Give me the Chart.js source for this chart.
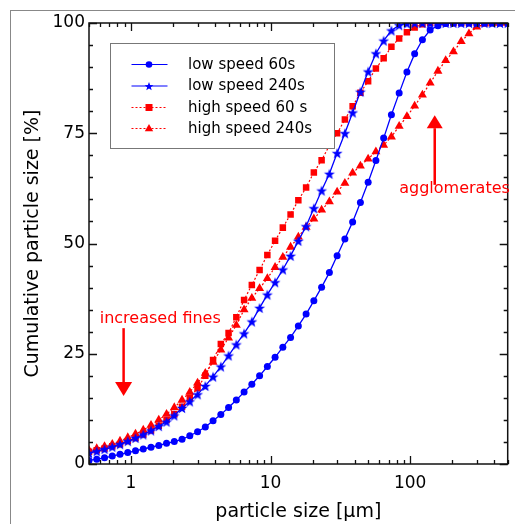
<!DOCTYPE html>
<html>
<head>
<meta charset="utf-8">
<script src="https://cdn.jsdelivr.net/npm/chart.js@4.4.1/dist/chart.umd.min.js"></script>
<style>
  html, body { margin: 0; padding: 0; background: #fff; overflow: hidden; }
  #frame { position: absolute; left: 10px; top: 10px; width: 600px; height: 600px; border: 1.5px solid #888; }
  #wrap { position: absolute; left: 0; top: 0; width: 515px; height: 524px; }
</style>
</head>
<body>
<div id="frame"></div>
<div id="wrap"><canvas id="chart" width="515" height="524"></canvas></div>
<script>
// particle size classes [µm]
const sizes = [0.5, 0.568, 0.646, 0.734, 0.834, 0.948, 1.077, 1.224, 1.391, 1.581,
    1.797, 2.042, 2.321, 2.638, 2.998, 3.407, 3.872, 4.401, 5.0, 5.683,
    6.459, 7.34, 8.342, 9.481, 10.77, 12.24, 13.91, 15.81, 17.97, 20.42,
    23.21, 26.38, 29.98, 34.07, 38.72, 44.01, 50.0, 56.83, 64.59, 73.4,
    83.42, 94.81, 107.7, 122.4, 139.1, 158.1, 179.7, 204.2, 232.1, 263.8,
    299.8, 340.7, 387.2, 440.1, 500];

const lowSpeed60 = [0.8, 1.1, 1.4, 1.8, 2.2, 2.6, 3.0, 3.4, 3.8, 4.2,
    4.7, 5.1, 5.6, 6.4, 7.3, 8.4, 9.8, 11.2, 12.8, 14.5,
    16.3, 18.1, 20.0, 22.1, 24.2, 26.5, 28.7, 31.3, 34.0, 37.0,
    40.1, 43.4, 47.2, 51.0, 54.9, 59.3, 63.9, 68.8, 73.9, 79.2,
    84.1, 88.9, 93.0, 96.2, 98.4, 99.4, 99.9, 100, 100, 100,
    100, 100, 100, 100, 100];

const lowSpeed240 = [2.5, 2.9, 3.4, 3.9, 4.5, 5.2, 5.9, 6.7, 7.6, 8.6,
    9.6, 11.0, 12.7, 14.2, 15.8, 17.7, 19.8, 22.1, 24.6, 27.1,
    29.6, 32.3, 35.4, 38.4, 41.2, 44.1, 47.2, 50.6, 53.9, 58.0,
    62.0, 65.8, 70.5, 75.0, 79.7, 84.4, 89.0, 93.1, 96.0, 98.3,
    99.5, 99.9, 100, 100, 100, 100, 100, 100, 100, 100,
    100, 100, 100, 100, 100];

const highSpeed60 = [2.8, 3.1, 3.5, 4.0, 4.5, 5.2, 5.9, 6.7, 7.6, 8.7,
    10.0, 11.3, 13.0, 15.0, 17.2, 20.0, 23.6, 27.2, 29.7, 33.3,
    37.2, 40.6, 44.0, 47.4, 50.6, 53.6, 56.6, 59.8, 62.7, 66.1,
    68.9, 72.2, 75.0, 78.1, 81.1, 84.2, 86.8, 89.7, 92.0, 94.6,
    96.5, 97.9, 99.0, 99.7, 100, 100, 100, 100, 100, 100,
    100, 100, 100, 100, 100];

const highSpeed240 = [3.1, 3.5, 4.0, 4.5, 5.2, 6.0, 6.8, 7.7, 8.8, 10.0,
    11.3, 12.8, 14.5, 16.3, 18.4, 20.6, 23.1, 25.9, 28.6, 31.5,
    35.0, 37.6, 39.8, 42.1, 44.6, 46.9, 49.2, 51.5, 53.7, 55.6,
    57.6, 59.5, 61.7, 63.7, 66.0, 67.6, 69.2, 70.8, 72.3, 74.2,
    76.6, 78.8, 81.2, 83.7, 86.4, 89.1, 91.5, 93.5, 95.8, 97.6,
    99.1, 99.8, 100, 100, 100];

const seriesNames = ['low speed 60s', 'low speed 240s', 'high speed 60 s', 'high speed 240s'];
const xTickLabels = [1, 10, 100];
const yTickLabels = [0, 25, 50, 75, 100];

const FONT = '"DejaVu Sans", Verdana, sans-serif';
const BLUE = '#0000ff';
const RED = '#ff0000';

function makeStar(r, color) {
    const c = document.createElement('canvas');
    const s = Math.ceil(r * 2) + 2;
    c.width = s;
    c.height = s;
    const g = c.getContext('2d');
    g.fillStyle = color;
    g.beginPath();
    for (let i = 0; i < 10; i++) {
        const rad = i % 2 === 0 ? r : r * 0.42;
        const a = -Math.PI / 2 + i * Math.PI / 5;
        const px = s / 2 + rad * Math.cos(a);
        const py = s / 2 + 0.6 + rad * Math.sin(a);
        if (i === 0) g.moveTo(px, py); else g.lineTo(px, py);
    }
    g.closePath();
    g.fill();
    return c;
}

const starImg = makeStar(5.7, BLUE);
const starSmall = makeStar(4.6, BLUE);

function pts(vals) {
    return sizes.map((x, i) => ({ x: x, y: vals[i] }));
}

// inside tick marks + frame of the plot
const axesFrame = {
    id: 'axesFrame',
    afterDatasetsDraw(chart) {
        const ctx = chart.ctx;
        const a = chart.chartArea;
        const xs = chart.scales.x, ys = chart.scales.y;
        ctx.save();
        ctx.strokeStyle = '#111';
        ctx.lineWidth = 1.3;
        ctx.beginPath();
        // x ticks (log, minor at 2..9)
        for (let dec = 0.1; dec <= 100; dec *= 10) {
            for (let m = 1; m <= 9; m++) {
                const v = dec * m;
                if (v < 0.5 - 1e-9 || v > 500 + 1e-9) continue;
                const px = Math.round(xs.getPixelForValue(v)) + 0.5;
                const len = m === 1 ? 8 : 4;
                ctx.moveTo(px, a.bottom); ctx.lineTo(px, a.bottom - len);
                ctx.moveTo(px, a.top); ctx.lineTo(px, a.top + len);
            }
        }
        // y ticks every 5
        for (let v = 0; v <= 100; v += 5) {
            const py = Math.round(ys.getPixelForValue(v)) + 0.5;
            const len = v % 25 === 0 ? 8 : 4;
            ctx.moveTo(a.left, py); ctx.lineTo(a.left + len, py);
            ctx.moveTo(a.right, py); ctx.lineTo(a.right - len, py);
        }
        ctx.stroke();
        ctx.lineWidth = 1.5;
        ctx.strokeRect(a.left, a.top, a.right - a.left, a.bottom - a.top);
        ctx.restore();
    }
};

// legend box inside plot, upper left
const boxLegend = {
    id: 'boxLegend',
    afterDraw(chart) {
        const ctx = chart.ctx;
        const a = chart.chartArea;
        const left = a.left + 21.5, top = a.top + 20.5;
        ctx.save();
        ctx.fillStyle = '#fff';
        ctx.fillRect(left, top, 224, 105);
        ctx.strokeStyle = '#777';
        ctx.lineWidth = 1;
        ctx.strokeRect(left, top, 224, 105);
        ctx.font = '15px ' + FONT;
        ctx.textBaseline = 'middle';
        const rows = [21, 42.5, 64, 85];
        chart.data.datasets.forEach((ds, i) => {
            const y = top + rows[i];
            const x0 = left + 21, x1 = left + 57, xm = left + 38.5;
            ctx.strokeStyle = ds.borderColor;
            ctx.lineWidth = 1.2;
            ctx.setLineDash(ds.borderDash || []);
            ctx.beginPath();
            ctx.moveTo(x0, y); ctx.lineTo(x1, y);
            ctx.stroke();
            ctx.setLineDash([]);
            ctx.fillStyle = ds.borderColor;
            if (i === 0) {
                ctx.beginPath(); ctx.arc(xm, y, 3.3, 0, Math.PI * 2); ctx.fill();
            } else if (i === 1) {
                ctx.drawImage(starSmall, xm - starSmall.width / 2, y - starSmall.height / 2);
            } else if (i === 2) {
                ctx.fillRect(xm - 3.5, y - 3.5, 7, 7);
            } else {
                ctx.beginPath();
                ctx.moveTo(xm, y - 4.5); ctx.lineTo(xm + 4.2, y + 2.8); ctx.lineTo(xm - 4.2, y + 2.8);
                ctx.closePath(); ctx.fill();
            }
            ctx.fillStyle = '#000';
            ctx.fillText(ds.label, left + 77.5, y + 0.5);
        });
        ctx.restore();
    }
};

// red notes with arrows
function arrow(ctx, x, yFrom, yTo, headLen, headHalf) {
    const dir = yTo > yFrom ? 1 : -1;
    ctx.beginPath();
    ctx.moveTo(x, yFrom); ctx.lineTo(x, yTo - dir * headLen);
    ctx.stroke();
    ctx.beginPath();
    ctx.moveTo(x, yTo);
    ctx.lineTo(x - headHalf, yTo - dir * headLen);
    ctx.lineTo(x + headHalf, yTo - dir * headLen);
    ctx.closePath();
    ctx.fill();
}

const notes = {
    id: 'notes',
    afterDraw(chart) {
        const ctx = chart.ctx;
        const xs = chart.scales.x, ys = chart.scales.y;
        ctx.save();
        ctx.fillStyle = RED;
        ctx.strokeStyle = RED;
        ctx.lineWidth = 2.5;
        ctx.font = '16px ' + FONT;
        ctx.textAlign = 'center';
        ctx.textBaseline = 'alphabetic';
        ctx.fillText('increased fines', xs.getPixelForValue(1.62), ys.getPixelForValue(32));
        arrow(ctx, xs.getPixelForValue(0.885), ys.getPixelForValue(30.8), ys.getPixelForValue(15.4), 14, 8.5);
        ctx.fillText('agglomerates', xs.getPixelForValue(208), ys.getPixelForValue(61.5));
        arrow(ctx, xs.getPixelForValue(150), ys.getPixelForValue(63.3), ys.getPixelForValue(79.1), 13, 8);
        ctx.restore();
    }
};

const ctx = document.getElementById('chart').getContext('2d');
new Chart(ctx, {
    type: 'scatter',
    data: {
        datasets: [
            { label: seriesNames[0], data: pts(lowSpeed60), showLine: true, borderColor: BLUE, backgroundColor: BLUE,
              borderWidth: 1.3, pointStyle: 'circle', pointRadius: 3.5, pointBorderWidth: 0 },
            { label: seriesNames[1], data: pts(lowSpeed240), showLine: true, borderColor: BLUE, backgroundColor: BLUE,
              borderWidth: 1.3, pointStyle: starImg, pointRadius: 6 },
            { label: seriesNames[2], data: pts(highSpeed60), showLine: true, borderColor: RED, backgroundColor: RED,
              borderWidth: 1.2, borderDash: [2, 2], pointStyle: 'rect', pointRadius: 4.6, pointBorderWidth: 0 },
            { label: seriesNames[3], data: pts(highSpeed240), showLine: true, borderColor: RED, backgroundColor: RED,
              borderWidth: 1.2, borderDash: [2, 2], pointStyle: 'triangle', pointRadius: 5.2, pointBorderWidth: 0 }
        ]
    },
    options: {
        responsive: false,
        animation: false,
        layout: { padding: { top: 23, right: 2, left: 0, bottom: 0 } },
        plugins: {
            legend: { display: false },
            tooltip: { enabled: false }
        },
        elements: { line: { tension: 0 } },
        scales: {
            x: {
                type: 'logarithmic',
                min: 0.5,
                max: 500,
                grid: { display: false, drawTicks: false },
                border: { display: false },
                afterBuildTicks: function (s) { s.ticks = xTickLabels.map(v => ({ value: v })); },
                afterFit: function (s) { s.height = 60; },
                ticks: {
                    color: '#000', font: { family: FONT, size: 17 }, padding: 9,
                    maxRotation: 0, autoSkip: false,
                    callback: function (v) { return String(v); }
                },
                title: {
                    display: true, text: 'particle size [µm]', color: '#000',
                    font: { family: FONT, size: 19 }, padding: { top: 0, bottom: 1 }
                }
            },
            y: {
                type: 'linear',
                min: 0,
                max: 100,
                grid: { display: false, drawTicks: false },
                border: { display: false },
                afterBuildTicks: function (s) { s.ticks = yTickLabels.map(v => ({ value: v })); },
                afterFit: function (s) { s.width = 89; },
                ticks: { color: '#000', font: { family: FONT, size: 17 }, padding: 4 },
                title: {
                    display: true, text: 'Cumulative particle size [%]', color: '#000',
                    font: { family: FONT, size: 19 }, padding: { top: 22, bottom: 0 }
                }
            }
        }
    },
    plugins: [axesFrame, boxLegend, notes]
});
</script>
</body>
</html>
